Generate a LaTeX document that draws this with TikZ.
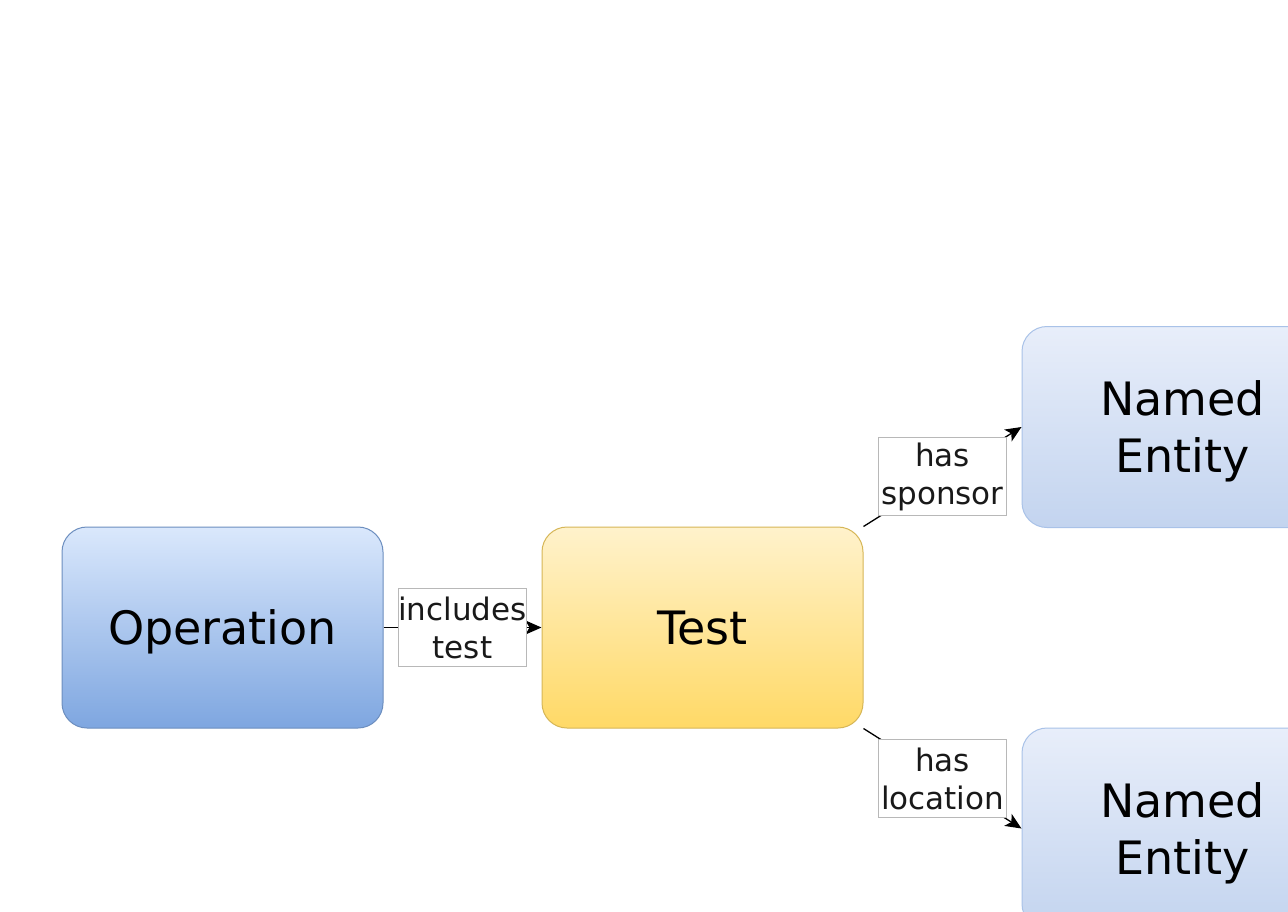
\documentclass[tikz,border=0pt]{standalone}
\usepackage{fontspec}
\setmainfont{DejaVu Sans}
\usetikzlibrary{arrows.meta}
\definecolor{opTop}{HTML}{DAE8FC}
\definecolor{opBot}{HTML}{7EA6E0}
\definecolor{opLine}{HTML}{6C8EBF}
\definecolor{tsTop}{HTML}{FFF2CC}
\definecolor{tsBot}{HTML}{FFD966}
\definecolor{tsLine}{HTML}{D6B656}
\definecolor{neTop}{HTML}{E8EEFA}
\definecolor{neBot}{HTML}{C3D4EF}
\definecolor{neLine}{HTML}{A9C2E8}
\definecolor{lblLine}{HTML}{B8B8B8}
\tikzset{
  entity/.style={rectangle, rounded corners=25pt, minimum width=321pt,
    minimum height=201pt, inner sep=0pt, line width=1pt, align=center,
    text depth=0pt, font=\fontsize{46}{57}\selectfont, text=black},
  opbox/.style={entity, top color=opTop, bottom color=opBot, draw=opLine},
  testbox/.style={entity, top color=tsTop, bottom color=tsBot, draw=tsLine},
  namedbox/.style={entity, top color=neTop, bottom color=neBot, draw=neLine},
  rel/.style={draw=black, line width=1.3pt,
    -{Stealth[length=16pt,width=14pt,inset=4pt]}},
  lbl/.style={rectangle, fill=white, draw=lblLine, line width=0.8pt,
    minimum width=128pt, minimum height=78pt, inner sep=0pt, align=center,
    font=\fontsize{31}{38}\selectfont, text=black!90}
}
\begin{document}
\begin{tikzpicture}[x=1pt,y=-1pt]
  \useasboundingbox (0,0) rectangle (1288,911);
  \fill[white] (0,0) rectangle (1288,911);
  \clip (0,0) rectangle (1288,911);

  \node[opbox]   (op)   at (222.5,627.5)  {Operation};
  \node[testbox] (test) at (702.5,627.5)  {Test};
  \node[namedbox] (sponsor)  at (1182.5,427)   {Named\\Entity};
  \node[namedbox] (location) at (1182.5,828.5) {Named\\Entity};

  \draw[rel] (op.east) -- (test.west)
    node[lbl, midway] (l1) {includes\\test};
  \draw[rel] (test.north east) -- (sponsor.west)
    node[lbl, midway] (l2) {has\\sponsor};
  \draw[rel] (test.south east) -- (location.west)
    node[lbl, midway] (l3) {has\\location};
\end{tikzpicture}
\end{document}
